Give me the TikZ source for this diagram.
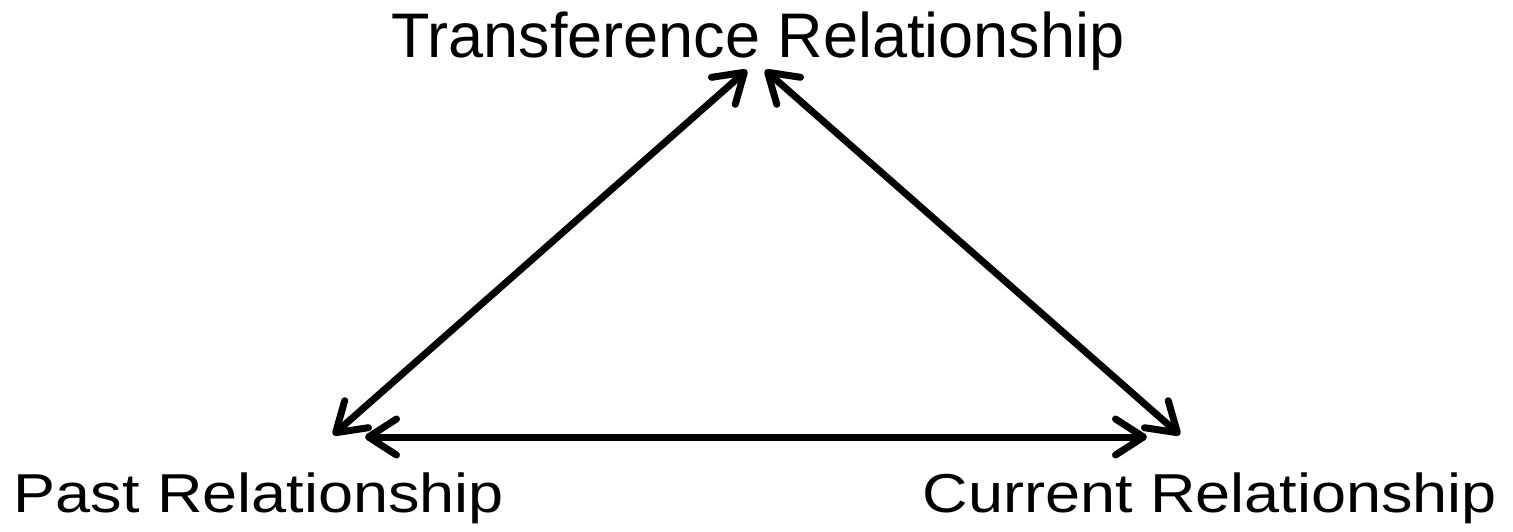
\documentclass[tikz,border=0pt]{standalone}
\usepackage{fontspec}
\setmainfont{Liberation Sans}
\usetikzlibrary{arrows.meta}
\begin{document}
\begin{tikzpicture}[x=1pt,y=-1pt,
  lbl/.style={inner sep=0pt, anchor=base, font=\fontsize{63}{75}\selectfont},
  conn/.style={line width=7pt, line cap=round,
    {Straight Barb[length=28pt,width=36pt,round]}-{Straight Barb[length=28pt,width=36pt,round]}}]
\useasboundingbox[fill=white] (0,0) rectangle (1513,531);
\node[lbl] (trans) at (758,57) {Transference Relationship};
\node[lbl] (past) at (259,512) {\scalebox{1}[0.87]{Past Relationship}};
\node[lbl] (curr) at (1210,512) {\scalebox{1}[0.87]{Current Relationship}};
\coordinate (tL) at (747,70);
\coordinate (tR) at (765,70);
\coordinate (pD) at (333,435);
\coordinate (pH) at (365,437);
\coordinate (cH) at (1147,437);
\coordinate (cD) at (1180,435);
\draw[conn] (pD) -- (tL);
\draw[conn] (tR) -- (cD);
\draw[conn] (pH) -- (cH);
\end{tikzpicture}
\end{document}
